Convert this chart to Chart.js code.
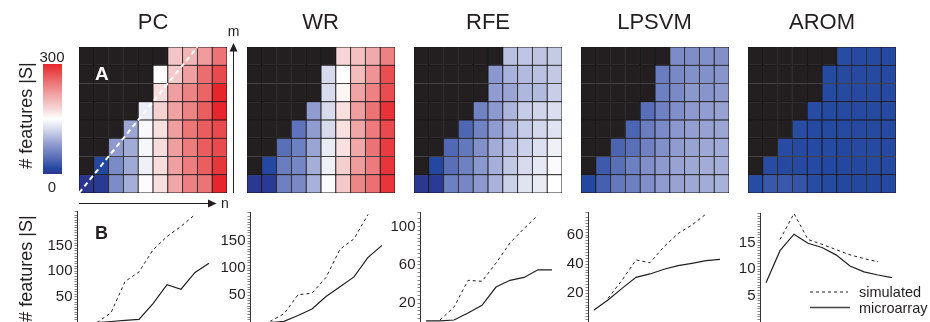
<!DOCTYPE html>
<html><head><meta charset="utf-8">
<script src="https://cdn.jsdelivr.net/npm/chart.js@4.4.1/dist/chart.umd.min.js"></script>
<style>
html,body{margin:0;padding:0;background:#fff;}
#wrap{position:relative;width:930px;height:322px;overflow:hidden;font-family:'Liberation Sans',Arial,Helvetica,sans-serif;}
#wrap canvas{position:absolute;}
#wrap svg{position:absolute;left:0;top:0;}
</style></head><body>
<div id="wrap"></div>
<script>
// ---------------- DATA ----------------
const methods = ['PC', 'WR', 'RFE', 'LPSVM', 'AROM'];
const nValues = [1, 2, 3, 4, 5, 6, 7, 8, 9, 10];
const mValues = [1, 2, 3, 4, 5, 6, 7, 8];
// heatmap cells (# features |S|), rows m=1 (bottom) ... m=8 (top); null = not evaluated (black)
const PC_cells = [
  [0, 4, 69, 93, 148, 172, 215, 241, 249, 300],
  [null, 15, 68, 90, 139, 174, 219, 243, 264, 289],
  [null, null, 80, 91, 144, 175, 220, 244, 265, 277],
  [null, null, null, 88, 145, 172, 220, 248, 265, 277],
  [null, null, null, null, 136, 182, 218, 239, 264, 300],
  [null, null, null, null, null, 174, 221, 239, 260, 300],
  [null, null, null, null, null, 150, 189, 221, 254, 277],
  [null, null, null, null, null, null, 191, 203, 223, 249]
];
const WR_cells = [
  [2, 3, 59, 66, 95, 147, 188, 237, 252, 290],
  [null, 15, 57, 64, 93, 139, 184, 223, 245, 290],
  [null, null, 46, 59, 87, 135, 171, 213, 250, 286],
  [null, null, null, 49, 81, 123, 171, 214, 245, 277],
  [null, null, null, null, 81, 123, 172, 221, 250, 292],
  [null, null, null, null, null, 124, 158, 216, 240, 275],
  [null, null, null, null, null, 123, 150, 198, 228, 274],
  [null, null, null, null, null, null, 179, 195, 212, 240]
];
const RFE_cells = [
  [2, 5, 59, 65, 80, 96, 116, 129, 135, 150],
  [null, 15, 46, 60, 78, 94, 110, 123, 133, 147],
  [null, null, 40, 53, 72, 92, 105, 116, 127, 139],
  [null, null, null, 39, 61, 81, 98, 113, 121, 129],
  [null, null, null, null, 61, 79, 98, 113, 119, 125],
  [null, null, null, null, null, 81, 87, 99, 101, 114],
  [null, null, null, null, null, 78, 96, 101, 106, 111],
  [null, null, null, null, null, null, 105, 109, 108, 112]
];
const LPSVM_cells = [
  [15, 34, 53, 59, 71, 81, 86, 89, 92, 95],
  [null, 29, 46, 59, 71, 80, 86, 89, 92, 93],
  [null, null, 38, 46, 60, 72, 81, 86, 89, 91],
  [null, null, null, 38, 57, 68, 78, 83, 85, 88],
  [null, null, null, null, 45, 60, 71, 80, 82, 85],
  [null, null, null, null, null, 59, 67, 78, 76, 80],
  [null, null, null, null, null, 57, 66, 73, 73, 76],
  [null, null, null, null, null, null, 69, 70, 72, 72]
];
const AROM_cells = [
  [18, 27, 27, 24, 18, 16, 14, 14, 15, 16],
  [null, 17, 16, 16, 16, 15, 15, 15, 16, 16],
  [null, null, 17, 16, 16, 16, 15, 16, 16, 16],
  [null, null, null, 17, 16, 16, 16, 16, 16, 16],
  [null, null, null, null, 17, 16, 16, 16, 16, 16],
  [null, null, null, null, null, 16, 16, 16, 16, 16],
  [null, null, null, null, null, 16, 16, 16, 16, 16],
  [null, null, null, null, null, null, 17, 16, 16, 16]
];
const cbarRange = [0, 300];

// line panels (n = 1..10)
const PC_sim      = [null, 0, 19, 80, 99, 142, 168, 188, 211, null];
const PC_micro    = [0, 0, 2, 4, 6, 37, 74, 65, 98, 116];
const WR_sim      = [null, 2, 16, 51, 54, 83, 135, 154, 199, null];
const WR_micro    = [0, 0, 2, 13, 25, 48, 66, 84, 120, 142];
const RFE_sim     = [null, 2.6, 16, 44, 43, 62, 83, 98, 112, null];
const RFE_micro   = [1.6, 1.6, 2.6, 10, 18, 37, 44, 47, 55, 55];
const LPSVM_sim   = [null, 16.6, 29, 42.9, 41, 52, 61, 66.9, 74.4, null];
const LPSVM_micro = [8.6, 15.4, 23.4, 31, 33.3, 36.5, 39, 40.6, 42.4, 43.3];
const AROM_sim    = [null, 15.6, 20.5, 15.6, 14.7, 13.7, 12.7, 12, 11.4, null];
const AROM_micro  = [7.45, 13.5, 16.6, 14.9, 14.1, 12.7, 10.6, 9.5, 8.9, 8.4];

const PC_ticks = [50, 100, 150];
const WR_ticks = [50, 100, 150];
const RFE_ticks = [20, 60, 100];
const LPSVM_ticks = [20, 40, 60];
const AROM_ticks = [5, 10, 15];
const yMaxes = [218, 203.5, 115.3, 75.8, 20.6];
const minorSteps = [5, 5, 4, 2, 0.5];
const legendLabels = ['simulated', 'microarray'];

// ---------------- STYLE / LAYOUT ----------------
const FONT = "'Liberation Sans', Arial, Helvetica, sans-serif";
Chart.defaults.font.family = FONT;
const INK = '#231f20';
const cmapStops = [
  [0, [43, 53, 144]], [15, [36, 72, 161]], [40, [80, 104, 181]], [80, [142, 154, 207]],
  [120, [210, 215, 235]], [150, [255, 255, 255]], [180, [246, 212, 213]], [220, [240, 159, 160]],
  [260, [235, 100, 102]], [300, [230, 38, 43]]
];
function cmap(v) {
  if (v <= cmapStops[0][0]) return rgb(cmapStops[0][1]);
  for (let i = 1; i < cmapStops.length; i++) {
    const [v1, c1] = cmapStops[i];
    const [v0, c0] = cmapStops[i - 1];
    if (v <= v1) {
      const f = (v - v0) / (v1 - v0);
      return rgb(c0.map((c, k) => c + (c1[k] - c) * f));
    }
  }
  return rgb(cmapStops[cmapStops.length - 1][1]);
}
function rgb(a) { return 'rgb(' + a.map(x => Math.round(x)).join(',') + ')'; }

const heatCells = [PC_cells, WR_cells, RFE_cells, LPSVM_cells, AROM_cells];
const sims = [PC_sim, WR_sim, RFE_sim, LPSVM_sim, AROM_sim];
const micros = [PC_micro, WR_micro, RFE_micro, LPSVM_micro, AROM_micro];
const majorTicks = [PC_ticks, WR_ticks, RFE_ticks, LPSVM_ticks, AROM_ticks];

const HM = { lefts: [79, 246.5, 414, 580.5, 748], top: 47, w: 148, h: 146 };
const LP = { axisX: [77, 250, 420, 588, 760], top: [211, 212, 212, 212, 213], zero: [322.5, 322.5, 322.5, 322.5, 322.2] };
const AXW = 45, PLOTW = 138, STEP = 14, GAP = 6, CTOP = 200, CH = 140;

const wrap = document.getElementById('wrap');
function mk(left, top, w, h) {
  const c = document.createElement('canvas');
  c.width = w; c.height = h;
  c.style.left = left + 'px'; c.style.top = top + 'px';
  c.style.width = w + 'px'; c.style.height = h + 'px';
  wrap.appendChild(c);
  return c;
}

const diagPlugin = {
  id: 'diag',
  afterDatasetsDraw(chart, args, opts) {
    if (!opts || !opts.show) return;
    const { ctx, chartArea, scales } = chart;
    const cellW = chartArea.width / nValues.length;
    const end = mValues.length; // m = n guide line
    ctx.save();
    ctx.strokeStyle = '#ffffff';
    ctx.lineWidth = 2;
    ctx.setLineDash([5, 3.5]);
    ctx.beginPath();
    ctx.moveTo(chartArea.left, scales.y.getPixelForValue(0));
    ctx.lineTo(chartArea.left + end * cellW, scales.y.getPixelForValue(end));
    ctx.stroke();
    ctx.restore();
  }
};

// heatmaps
heatCells.forEach((cells, i) => {
  const cv = mk(HM.lefts[i], HM.top, HM.w, HM.h);
  new Chart(cv, {
    type: 'bar',
    data: {
      labels: nValues.map(String),
      datasets: cells.map(row => ({
        data: row.map(() => 1),
        backgroundColor: row.map(v => v == null ? INK : cmap(v)),
        borderColor: '#1b1819',
        borderWidth: 0.8,
        borderSkipped: false,
        barPercentage: 1,
        categoryPercentage: 1,
        inflateAmount: 0.3
      }))
    },
    options: {
      animation: false, responsive: false, events: [],
      layout: { padding: 0 },
      plugins: { legend: { display: false }, tooltip: { enabled: false }, diag: { show: i === 0 } },
      scales: {
        x: { stacked: true, display: false },
        y: { stacked: true, display: false, min: 0, max: mValues.length }
      }
    },
    plugins: [diagPlugin]
  });
});

// colorbar
(function () {
  const cv = mk(43, 64, 19, 110);
  new Chart(cv, {
    type: 'bar',
    data: { labels: [''], datasets: [{
      data: [[cbarRange[0], cbarRange[1]]],
      barPercentage: 1, categoryPercentage: 1, borderWidth: 0, inflateAmount: 0,
      backgroundColor: (c) => {
        const ch = c.chart; const ca = ch.chartArea;
        if (!ca) return '#fff';
        const y = ch.scales.y;
        const g = ch.ctx.createLinearGradient(0, y.getPixelForValue(cbarRange[0]), 0, y.getPixelForValue(cbarRange[1]));
        cmapStops.forEach(([v, col]) => g.addColorStop((v - cbarRange[0]) / (cbarRange[1] - cbarRange[0]), rgb(col)));
        return g;
      }
    }] },
    options: {
      animation: false, responsive: false, events: [],
      layout: { padding: 0 },
      plugins: { legend: { display: false }, tooltip: { enabled: false } },
      scales: { x: { display: false }, y: { display: false, min: cbarRange[0], max: cbarRange[1] } }
    }
  });
})();

// line panels
sims.forEach((sim, i) => {
  const ax = LP.axisX[i];
  const cv = mk(ax - AXW, CTOP, AXW + PLOTW, CH);
  const pts = arr => nValues.map((n, k) => ({ x: n, y: arr[k] }));
  const majors = majorTicks[i];
  const xmin = nValues[0] - GAP / STEP;
  new Chart(cv, {
    type: 'line',
    data: { datasets: [
      { label: legendLabels[0], data: pts(sim), borderColor: INK, borderWidth: 1, borderDash: [3, 3], pointRadius: 0, tension: 0, clip: false },
      { label: legendLabels[1], data: pts(micros[i]), borderColor: INK, borderWidth: 1.2, pointRadius: 0, tension: 0, clip: false }
    ] },
    options: {
      animation: false, responsive: false, events: [],
      layout: { padding: { top: LP.top[i] - CTOP, bottom: CTOP + CH - LP.zero[i], left: 0, right: 0 } },
      plugins: { legend: { display: false }, tooltip: { enabled: false } },
      scales: {
        x: { type: 'linear', min: xmin, max: xmin + PLOTW / STEP, display: false },
        y: {
          type: 'linear', min: 0, max: yMaxes[i],
          afterFit(s) { s.width = AXW; },
          border: { display: true, color: '#333', width: 1 },
          grid: { drawOnChartArea: false, drawTicks: true, tickLength: 2.5, color: '#666', lineWidth: 0.8 },
          ticks: {
            stepSize: minorSteps[i], autoSkip: false, padding: 2, color: INK,
            font: { size: 15 },
            callback: v => majors.some(m => Math.abs(m - v) < 1e-6) ? String(Math.round(v)) : ''
          }
        }
      }
    }
  });
});

// text / annotations overlay
(function () {
  const ns = 'http://www.w3.org/2000/svg';
  const svg = document.createElementNS(ns, 'svg');
  svg.setAttribute('width', 930); svg.setAttribute('height', 322);
  let s = '';
  methods.forEach((m, i) => {
    s += `<text x="${HM.lefts[i] + HM.w / 2}" y="29" text-anchor="middle" font-size="22" fill="${INK}">${m}</text>`;
  });
  s += `<text x="52" y="62" text-anchor="middle" font-size="15" fill="${INK}">${cbarRange[1]}</text>`;
  s += `<text x="52" y="192" text-anchor="middle" font-size="15" fill="${INK}">${cbarRange[0]}</text>`;
  s += `<text transform="translate(32,115.5) rotate(-90)" text-anchor="middle" font-size="18" fill="${INK}"># features |S|</text>`;
  s += `<text transform="translate(32,268.5) rotate(-90)" text-anchor="middle" font-size="18" fill="${INK}"># features |S|</text>`;
  s += `<text x="95" y="80" font-size="19" font-weight="bold" fill="#ffffff">A</text>`;
  s += `<text x="95" y="238.5" font-size="18" font-weight="bold" fill="${INK}">B</text>`;
  // m arrow
  s += `<line x1="233.5" y1="193" x2="233.5" y2="50" stroke="${INK}" stroke-width="1"/>`;
  s += `<polygon points="233.5,43 229.5,51.5 237.5,51.5" fill="${INK}"/>`;
  s += `<text x="233.5" y="36" text-anchor="middle" font-size="14" fill="${INK}">m</text>`;
  // n arrow
  s += `<line x1="79" y1="203.5" x2="209" y2="203.5" stroke="${INK}" stroke-width="1"/>`;
  s += `<polygon points="216.5,203.5 208,199.5 208,207.5" fill="${INK}"/>`;
  s += `<text x="221" y="208" font-size="14" fill="${INK}">n</text>`;
  // legend
  s += `<line x1="810" y1="292" x2="848" y2="292" stroke="${INK}" stroke-width="1" stroke-dasharray="3,3"/>`;
  s += `<line x1="810" y1="307.5" x2="850" y2="307.5" stroke="#444" stroke-width="1.5"/>`;
  s += `<text x="859" y="297" font-size="14.5" fill="${INK}">${legendLabels[0]}</text>`;
  s += `<text x="859" y="312.5" font-size="14.5" fill="${INK}">${legendLabels[1]}</text>`;
  svg.innerHTML = s;
  wrap.appendChild(svg);
})();
</script>
</body></html>
